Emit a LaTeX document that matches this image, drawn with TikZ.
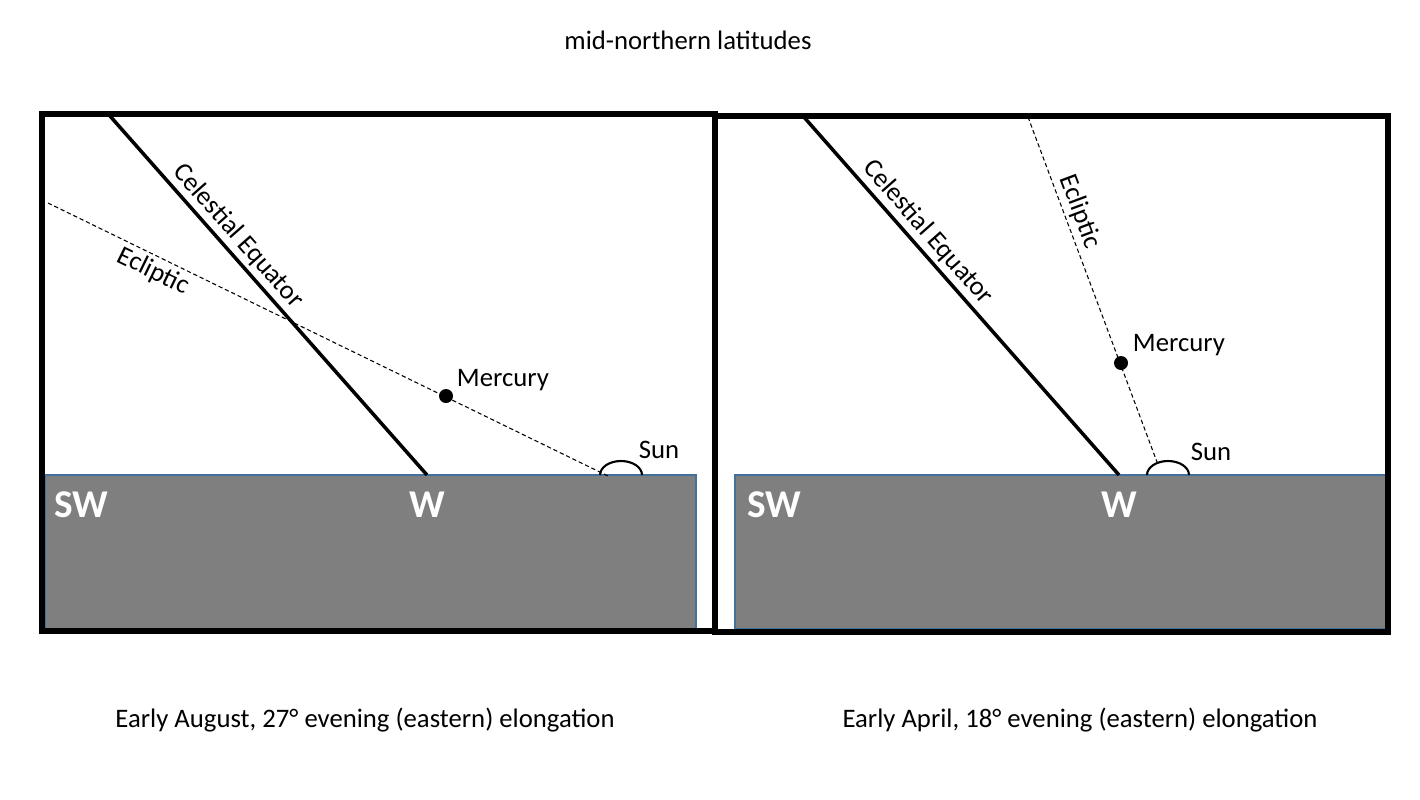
\documentclass[tikz,border=0pt]{standalone}
\usepackage{fontspec}
\setmainfont{Carlito}
\definecolor{groundgray}{HTML}{7F7F7F}
\definecolor{horizonblue}{HTML}{41719C}

\begin{document}
\begin{tikzpicture}[line width=0.8pt]
\tikzset{frame/.style={line width=1.6pt},
  ground/.style={fill=groundgray,draw=horizonblue,line width=0.3pt},
  equ/.style={line width=1pt},
  ecl/.style={line width=0.3pt,dash pattern=on 1.2pt off 0.8pt},
  sun/.style={line width=0.6pt},
  planet/.style={circle,fill=black,inner sep=0pt,minimum size=0.14cm},
  lbl/.style={font=\fontsize{7.6}{9}\selectfont,inner sep=1pt},
  dir/.style={font=\fontsize{11.2}{13}\selectfont\bfseries,text=white,inner sep=0pt}}
\useasboundingbox (0,0) rectangle (14.2,-7.99);
% title
\node[lbl] (title) at (6.88,-0.40) {mid-northern latitudes};
% ================= left panel (August) =================
\draw[ground] (0.45,-4.75) rectangle (6.96,-6.29);
\draw[frame] (0.42,-1.14) rectangle (7.15,-6.31);
\node[dir] (swL) at (0.815,-5.05) {SW};
\node[dir] (wL) at (4.27,-5.05) {W};
% celestial equator
\coordinate (eqtopL) at (1.10,-1.16);
\coordinate (eqbotL) at (4.27,-4.75);
\draw[equ] (eqtopL) -- node[lbl,sloped,above,pos=0.365] {Celestial Equator} (eqbotL);
% ecliptic down to the sun
\coordinate (ecltopL) at (0.48,-2.03);
\coordinate (eclbotL) at (6.08,-4.76);
\draw[ecl] (ecltopL) -- node[lbl,sloped,below,pos=0.2] {Ecliptic} (eclbotL);
% sun on the horizon
\coordinate (sunL) at (6.21,-4.75);
\draw[sun] (sunL) ++(-0.21,0) arc[start angle=180,end angle=0,x radius=0.21,y radius=0.14];
\node[lbl,anchor=west] (sunlblL) at (6.34,-4.50) {Sun};
% mercury
\node[planet] (mercL) at (4.46,-3.96) {};
\node[lbl,anchor=west] (merclblL) at (4.52,-3.80) {Mercury};
% ================= right panel (April) =================
\draw[ground] (7.35,-4.75) rectangle (13.86,-6.29);
\draw[frame] (7.15,-1.16) rectangle (13.88,-6.32);
\node[dir] (swR) at (7.745,-5.05) {SW};
\node[dir] (wR) at (11.19,-5.05) {W};
% celestial equator
\coordinate (eqtopR) at (8.03,-1.16);
\coordinate (eqbotR) at (11.19,-4.75);
\draw[equ] (eqtopR) -- node[lbl,sloped,above,pos=0.355] {Celestial Equator} (eqbotR);
% ecliptic, nearly upright
\coordinate (ecltopR) at (10.28,-1.17);
\coordinate (eclbotR) at (11.57,-4.62);
\draw[ecl] (ecltopR) -- node[lbl,sloped,above,pos=0.29] {Ecliptic} (eclbotR);
% sun on the horizon
\coordinate (sunR) at (11.68,-4.75);
\draw[sun] (sunR) ++(-0.21,0) arc[start angle=180,end angle=0,x radius=0.21,y radius=0.14];
\node[lbl,anchor=west] (sunlblR) at (11.86,-4.52) {Sun};
% mercury
\node[planet] (mercR) at (11.21,-3.63) {};
\node[lbl,anchor=west] (merclblR) at (11.28,-3.45) {Mercury};
% ---------- captions ----------
\node[lbl] (capL) at (3.65,-7.20) {Early August, 27° evening (eastern) elongation};
\node[lbl] (capR) at (10.80,-7.20) {Early April, 18° evening (eastern) elongation};
\end{tikzpicture}
\end{document}
